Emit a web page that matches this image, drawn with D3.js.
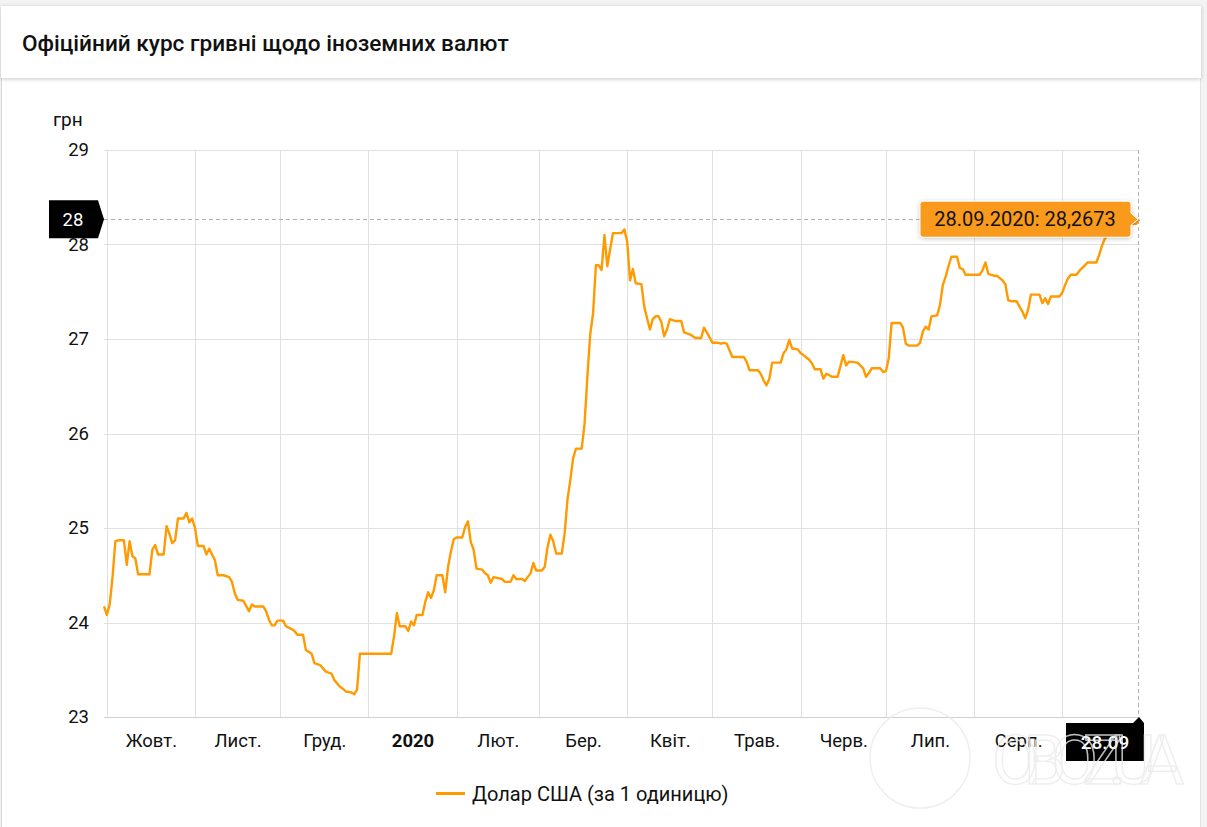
<!DOCTYPE html>
<meta charset="utf-8">
<style>
body { margin: 0; background: #f3f3f3; }
svg { display: block; font-family: Roboto, "Noto Sans", sans-serif; }
.grid line { stroke: #e0e0e0; stroke-width: 1px; shape-rendering: crispEdges; }
.tick text { fill: #111; }
</style>
<body>
<div id="chart"></div>
<script src="https://cdn.jsdelivr.net/npm/d3@7/dist/d3.min.js"></script>
<script>
var width = 1207,
    height = 827;

var title = 'Офіційний курс гривні щодо іноземних валют';
var seriesName = 'Долар США (за 1 одиницю)';
var yUnit = 'грн';
var yTicks = [23, 24, 25, 26, 27, 28, 29];
var monthLabels = ['Жовт.', 'Лист.', 'Груд.', '2020', 'Лют.', 'Бер.', 'Квіт.', 'Трав.', 'Черв.', 'Лип.', 'Серп.'];
var monthStarts = ['2019-10-01', '2019-11-01', '2019-12-01', '2020-01-01', '2020-02-01', '2020-03-01',
                   '2020-04-01', '2020-05-01', '2020-06-01', '2020-07-01', '2020-08-01', '2020-09-01'];

var dates = [
  '2019-09-30', '2019-10-01', '2019-10-02', '2019-10-03', '2019-10-04', '2019-10-05', '2019-10-07', '2019-10-08',
  '2019-10-09', '2019-10-10', '2019-10-11', '2019-10-12', '2019-10-16', '2019-10-17', '2019-10-18', '2019-10-19',
  '2019-10-21', '2019-10-22', '2019-10-23', '2019-10-24', '2019-10-25', '2019-10-26', '2019-10-28', '2019-10-29',
  '2019-10-30', '2019-10-31', '2019-11-01', '2019-11-02', '2019-11-04', '2019-11-05', '2019-11-06', '2019-11-08',
  '2019-11-09', '2019-11-11', '2019-11-13', '2019-11-14', '2019-11-15', '2019-11-16', '2019-11-18', '2019-11-20',
  '2019-11-21', '2019-11-22', '2019-11-25', '2019-11-26', '2019-11-27', '2019-11-28', '2019-11-29', '2019-11-30',
  '2019-12-02', '2019-12-03', '2019-12-05', '2019-12-06', '2019-12-07', '2019-12-09', '2019-12-10', '2019-12-12',
  '2019-12-13', '2019-12-15', '2019-12-17', '2019-12-19', '2019-12-20', '2019-12-22', '2019-12-23', '2019-12-24',
  '2019-12-26', '2019-12-27', '2019-12-28', '2019-12-29',
  '2020-01-09', '2020-01-10', '2020-01-11', '2020-01-12', '2020-01-14', '2020-01-15', '2020-01-16', '2020-01-17',
  '2020-01-18', '2020-01-20', '2020-01-21', '2020-01-22', '2020-01-23', '2020-01-24', '2020-01-25', '2020-01-27',
  '2020-01-28', '2020-01-29', '2020-01-30', '2020-01-31', '2020-02-01', '2020-02-03', '2020-02-04', '2020-02-05',
  '2020-02-06', '2020-02-07', '2020-02-08', '2020-02-10', '2020-02-11', '2020-02-12', '2020-02-13', '2020-02-14',
  '2020-02-17', '2020-02-18', '2020-02-20', '2020-02-21', '2020-02-22', '2020-02-24', '2020-02-25', '2020-02-26',
  '2020-02-27', '2020-02-28', '2020-02-29', '2020-03-02', '2020-03-03', '2020-03-04', '2020-03-05', '2020-03-06',
  '2020-03-07', '2020-03-09', '2020-03-10', '2020-03-11', '2020-03-12', '2020-03-13', '2020-03-14', '2020-03-16',
  '2020-03-17', '2020-03-18', '2020-03-19', '2020-03-20', '2020-03-21', '2020-03-22', '2020-03-23', '2020-03-24',
  '2020-03-25', '2020-03-26', '2020-03-27', '2020-03-30', '2020-03-31', '2020-04-01', '2020-04-02', '2020-04-03',
  '2020-04-04', '2020-04-06', '2020-04-07', '2020-04-08', '2020-04-09', '2020-04-10', '2020-04-11', '2020-04-12',
  '2020-04-13', '2020-04-14', '2020-04-15', '2020-04-16', '2020-04-18', '2020-04-20', '2020-04-21', '2020-04-23',
  '2020-04-25', '2020-04-27', '2020-04-28', '2020-04-29', '2020-05-01', '2020-05-03', '2020-05-04', '2020-05-05',
  '2020-05-06', '2020-05-08', '2020-05-12', '2020-05-13', '2020-05-14', '2020-05-17', '2020-05-18', '2020-05-19',
  '2020-05-20', '2020-05-21', '2020-05-22', '2020-05-25', '2020-05-26', '2020-05-27', '2020-05-28', '2020-05-29',
  '2020-05-31', '2020-06-01', '2020-06-02', '2020-06-04', '2020-06-05', '2020-06-06', '2020-06-08', '2020-06-09',
  '2020-06-10', '2020-06-11', '2020-06-12', '2020-06-14', '2020-06-15', '2020-06-16', '2020-06-17', '2020-06-18',
  '2020-06-21', '2020-06-23', '2020-06-24', '2020-06-25', '2020-06-26', '2020-06-29', '2020-06-30', '2020-07-01',
  '2020-07-02', '2020-07-03', '2020-07-06', '2020-07-07', '2020-07-08', '2020-07-09', '2020-07-12', '2020-07-13',
  '2020-07-14', '2020-07-15', '2020-07-16', '2020-07-17', '2020-07-19', '2020-07-20', '2020-07-21', '2020-07-22',
  '2020-07-23', '2020-07-24', '2020-07-26', '2020-07-27', '2020-07-28', '2020-07-29', '2020-08-03', '2020-08-04',
  '2020-08-05', '2020-08-06', '2020-08-08', '2020-08-09', '2020-08-11', '2020-08-12', '2020-08-13', '2020-08-14',
  '2020-08-16', '2020-08-17', '2020-08-18', '2020-08-19', '2020-08-20', '2020-08-21', '2020-08-24', '2020-08-25',
  '2020-08-26', '2020-08-27', '2020-08-28', '2020-08-31', '2020-09-01', '2020-09-02', '2020-09-03', '2020-09-04',
  '2020-09-06', '2020-09-07', '2020-09-08', '2020-09-10', '2020-09-13', '2020-09-14', '2020-09-15', '2020-09-16',
  '2020-09-17', '2020-09-18', '2020-09-21', '2020-09-22', '2020-09-23', '2020-09-24', '2020-09-25', '2020-09-27',
  '2020-09-28'
];

var usd = [
  24.17, 24.08, 24.19, 24.48, 24.86, 24.87, 24.87, 24.61,
  24.86, 24.70, 24.68, 24.51, 24.51, 24.77, 24.82, 24.72,
  24.72, 25.02, 24.94, 24.84, 24.87, 25.10, 25.10, 25.16,
  25.06, 25.10, 25.00, 24.81, 24.81, 24.72, 24.78, 24.66,
  24.50, 24.50, 24.48, 24.43, 24.31, 24.24, 24.23, 24.12,
  24.19, 24.17, 24.17, 24.12, 24.03, 23.97, 23.97, 24.02,
  24.02, 23.96, 23.93, 23.91, 23.87, 23.87, 23.71, 23.67,
  23.57, 23.55, 23.48, 23.46, 23.39, 23.32, 23.30, 23.27,
  23.26, 23.24, 23.29, 23.67,
  23.67, 23.85, 24.10, 23.96, 23.96, 23.91, 24.01, 23.97,
  24.08, 24.08, 24.22, 24.32, 24.26, 24.34, 24.50, 24.50,
  24.32, 24.59, 24.75, 24.88, 24.90, 24.90, 25.01, 25.07,
  24.85, 24.77, 24.57, 24.56, 24.52, 24.50, 24.42, 24.48,
  24.46, 24.43, 24.43, 24.50, 24.46, 24.46, 24.44, 24.48,
  24.52, 24.63, 24.55, 24.55, 24.59, 24.80, 24.93, 24.86,
  24.73, 24.73, 24.94, 25.30, 25.51, 25.74, 25.84, 25.84,
  26.10, 26.60, 27.05, 27.27, 27.78, 27.78, 27.73, 28.10,
  27.77, 27.95, 28.12, 28.12, 28.16, 28.03, 27.62, 27.74,
  27.59, 27.58, 27.34, 27.22, 27.10, 27.21, 27.24, 27.24,
  27.18, 27.03, 27.10, 27.21, 27.19, 27.19, 27.07, 27.05,
  27.01, 27.01, 27.12, 27.07, 26.96, 26.96, 26.95, 26.96,
  26.95, 26.81, 26.81, 26.76, 26.67, 26.67, 26.63, 26.56,
  26.51, 26.58, 26.75, 26.75, 26.85, 26.89, 26.99, 26.90,
  26.89, 26.85, 26.83, 26.78, 26.74, 26.68, 26.68, 26.58,
  26.63, 26.62, 26.60, 26.60, 26.71, 26.83, 26.72, 26.76,
  26.75, 26.69, 26.60, 26.64, 26.69, 26.69, 26.65, 26.66,
  26.80, 27.17, 27.17, 27.12, 26.95, 26.93, 26.93, 26.96,
  27.08, 27.13, 27.10, 27.24, 27.25, 27.36, 27.57, 27.66,
  27.77, 27.87, 27.87, 27.75, 27.74, 27.68, 27.68, 27.73,
  27.81, 27.69, 27.67, 27.67, 27.62, 27.58, 27.41, 27.40,
  27.40, 27.34, 27.29, 27.22, 27.31, 27.47, 27.47, 27.38,
  27.43, 27.37, 27.45, 27.45, 27.49, 27.57, 27.64, 27.68,
  27.68, 27.72, 27.75, 27.81, 27.81, 27.89, 27.99, 28.06,
  28.10, 28.12, 28.13, 28.16, 28.19, 28.21, 28.22, 28.22,
  28.2673
];

var parseDate = d3.timeParse('%Y-%m-%d');
var data = dates.map(function(d, i) {
  return { date: parseDate(d), value: usd[i] };
});

var margin = { left: 104, right: 68, top: 150, bottom: 110 };
var plotW = width - margin.left - margin.right,
    plotH = height - margin.top - margin.bottom;

var svg = d3.select('#chart').append('svg')
    .attr('width', width)
    .attr('height', height);

// card background
svg.append('rect').attr('x', 0).attr('y', 0).attr('width', width).attr('height', height).attr('fill', '#f3f3f3');
svg.append('rect').attr('x', 1).attr('y', 6).attr('width', 1200).attr('height', height).attr('fill', '#fff');
svg.append('line').attr('x1', 1.5).attr('x2', 1.5).attr('y1', 6).attr('y2', height).attr('stroke', '#d6d6d6');
svg.append('line').attr('x1', 1200.5).attr('x2', 1200.5).attr('y1', 6).attr('y2', height).attr('stroke', '#e4e4e4');

var defs = svg.append('defs');
var shadow = defs.append('filter').attr('id', 'shadow').attr('x', '-5%').attr('y', '-20%').attr('width', '110%').attr('height', '160%');
shadow.append('feDropShadow').attr('dx', 0).attr('dy', 1).attr('stdDeviation', 2).attr('flood-color', '#000').attr('flood-opacity', 0.22);

// title bar
svg.append('rect')
    .attr('x', 1).attr('y', 6).attr('width', 1200).attr('height', 72)
    .attr('fill', '#fff')
    .attr('filter', 'url(#shadow)');
svg.append('text')
    .attr('x', 22).attr('y', 51)
    .attr('font-size', 22.6)
    .attr('font-weight', 500)
    .attr('fill', '#111')
    .text(title);

var x = d3.scaleTime()
    .domain(d3.extent(data, function(d) { return d.date; }))
    .range([margin.left, margin.left + plotW]);

var y = d3.scaleLinear()
    .domain([23, 29])
    .range([margin.top + plotH, margin.top]);

var g = svg.append('g');

// horizontal grid
g.append('g').attr('class', 'grid')
  .selectAll('line')
  .data(yTicks)
  .enter().append('line')
    .attr('x1', margin.left)
    .attr('x2', margin.left + plotW)
    .attr('y1', function(d) { return Math.round(y(d)) + 0.5; })
    .attr('y2', function(d) { return Math.round(y(d)) + 0.5; });

// vertical grid at month starts
g.append('g').attr('class', 'grid')
  .selectAll('line')
  .data(monthStarts.map(parseDate))
  .enter().append('line')
    .attr('x1', function(d) { return Math.round(x(d)) + 0.5; })
    .attr('x2', function(d) { return Math.round(x(d)) + 0.5; })
    .attr('y1', margin.top)
    .attr('y2', margin.top + plotH);

// x axis line
g.append('line')
    .attr('x1', margin.left).attr('x2', margin.left + plotW)
    .attr('y1', Math.round(y(23)) + 0.5).attr('y2', Math.round(y(23)) + 0.5)
    .attr('stroke', '#d0d0d0');

// y axis labels
var yAxis = d3.axisLeft(y).tickValues(yTicks).tickSize(0).tickPadding(15).tickFormat(d3.format('d'));
g.append('g')
    .attr('transform', 'translate(' + margin.left + ',0)')
    .call(yAxis)
    .call(function(s) { s.select('.domain').remove(); })
    .selectAll('text')
      .attr('font-size', 18.5)
      .attr('font-family', 'Roboto, sans-serif');

svg.append('text')
    .attr('x', 53).attr('y', 126)
    .attr('font-size', 19)
    .attr('fill', '#111')
    .text(yUnit);

// month labels at the middle of each month
var starts = monthStarts.map(parseDate);
var mids = monthLabels.map(function(m, i) {
  return new Date((starts[i].getTime() + starts[i + 1].getTime()) / 2);
});
var xAxis = d3.axisBottom(x)
    .tickValues(mids)
    .tickSize(0)
    .tickPadding(17)
    .tickFormat(function(d, i) { return monthLabels[i]; });
g.append('g')
    .attr('transform', 'translate(0,' + (margin.top + plotH) + ')')
    .call(xAxis)
    .call(function(s) { s.select('.domain').remove(); })
    .selectAll('text')
      .attr('font-size', 18.5)
      .attr('font-family', 'Roboto, sans-serif')
      .attr('font-weight', function(d, i) { return monthLabels[i] === '2020' ? 700 : 400; });

// the line
var line = d3.line()
    .x(function(d) { return x(d.date); })
    .y(function(d) { return y(d.value); });

g.append('path')
    .datum(data)
    .attr('d', line)
    .attr('fill', 'none')
    .attr('stroke', '#ff9a00')
    .attr('stroke-width', 2.4)
    .attr('stroke-linejoin', 'round');

// crosshair on the last point
var last = data[data.length - 1];
var lx = x(last.date), ly = y(last.value);

g.append('line')
    .attr('x1', margin.left).attr('x2', lx)
    .attr('y1', Math.round(ly) + 0.5).attr('y2', Math.round(ly) + 0.5)
    .attr('stroke', '#b0b0b0').attr('stroke-dasharray', '4,3');
g.append('line')
    .attr('x1', Math.round(lx) - 0.5).attr('x2', Math.round(lx) - 0.5)
    .attr('y1', margin.top).attr('y2', margin.top + plotH)
    .attr('stroke', '#b0b0b0').attr('stroke-dasharray', '4,3');

// y crosshair label
var ylab = svg.append('g');
ylab.append('path')
    .attr('d', 'M49,' + (ly - 19) + 'H98L104,' + ly + 'L98,' + (ly + 19) + 'H49Z')
    .attr('fill', '#000');
ylab.append('text')
    .attr('x', 73).attr('y', ly + 6.5)
    .attr('text-anchor', 'middle')
    .attr('font-size', 18.5)
    .attr('fill', '#fff')
    .text(d3.format('d')(Math.floor(last.value)));

// x crosshair label
var bx = Math.round(lx);
var by = margin.top + plotH;
var xlab = svg.append('g');
xlab.append('path')
    .attr('d', 'M1066,' + (by + 6) + 'H' + (bx - 6) + 'L' + bx + ',' + by + 'L' + (bx + 5) + ',' + (by + 6) + 'V' + (by + 44) + 'H1066Z')
    .attr('fill', '#000');
xlab.append('text')
    .attr('x', 1105).attr('y', by + 32)
    .attr('text-anchor', 'middle')
    .attr('font-size', 19)
    .attr('font-weight', 500)
    .attr('fill', '#fff')
    .text(d3.timeFormat('%d.%m')(last.date));

// watermark over the bottom right corner
var wm = svg.append('g').attr('fill', 'none').attr('stroke', '#ebebeb').attr('stroke-width', 1.5).attr('opacity', 0.8);
wm.append('circle').attr('cx', 920).attr('cy', 758).attr('r', 50);
wm.append('text')
    .attr('x', 992).attr('y', 784)
    .attr('font-size', 68)
    .attr('font-family', 'Roboto')
    .attr('textLength', 192)
    .text('OBOZ.UA');

// tooltip
var tip = svg.append('g');
var fmtVal = function(v) { return d3.format('.4f')(v).replace('.', ','); };
tip.append('path')
    .attr('d', 'M923,' + (ly - 18) + 'H1128a3,3 0 0 1 3,3V' + (ly - 6) + 'L' + (lx - 1) + ',' + ly + 'L1131,' + (ly + 6) + 'V' + (ly + 15) + 'a3,3 0 0 1 -3,3H923a3,3 0 0 1 -3,-3V' + (ly - 15) + 'a3,3 0 0 1 3,-3Z')
    .attr('fill', '#f99a1b')
    .attr('stroke', '#fff')
    .attr('stroke-width', 1)
    .attr('filter', 'url(#shadow)');
tip.append('text')
    .attr('x', 1025).attr('y', ly + 7)
    .attr('text-anchor', 'middle')
    .attr('font-size', 20)
    .attr('fill', '#111')
    .text(d3.timeFormat('%d.%m.%Y')(last.date) + ': ' + fmtVal(last.value));

// legend
var leg = svg.append('g');
leg.append('line')
    .attr('x1', 436).attr('x2', 465)
    .attr('y1', 793.5).attr('y2', 793.5)
    .attr('stroke', '#ff9a00').attr('stroke-width', 3);
leg.append('text')
    .attr('x', 472).attr('y', 800.5)
    .attr('font-size', 20)
    .attr('fill', '#111')
    .text(seriesName);
</script>
</body>
